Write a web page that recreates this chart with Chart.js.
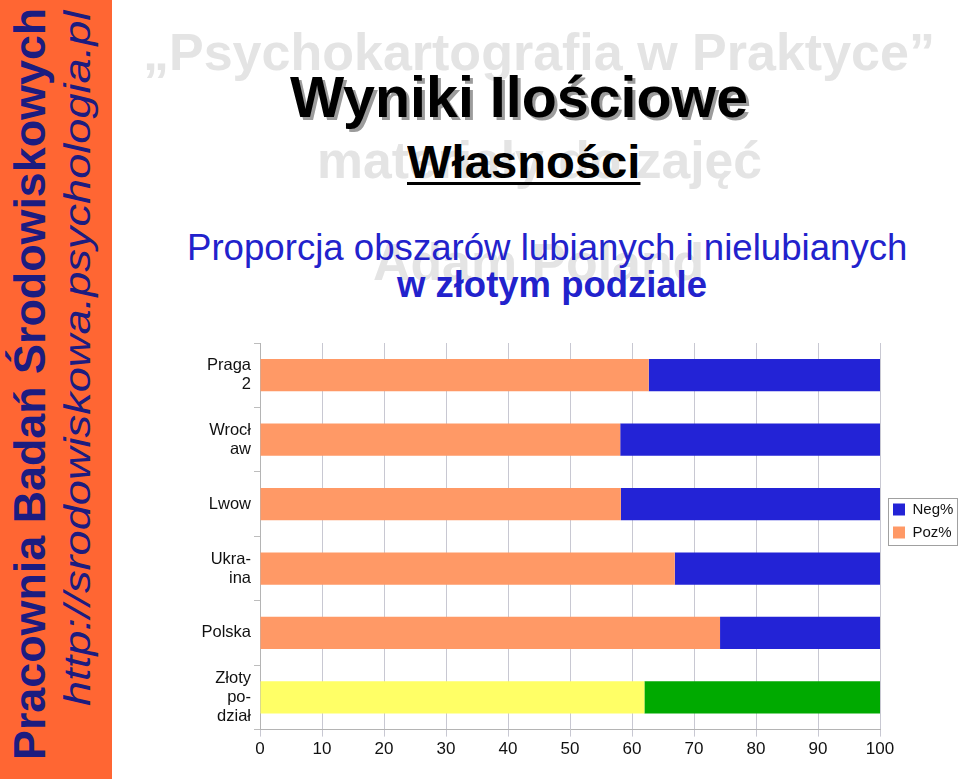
<!DOCTYPE html>
<html lang="pl">
<head>
<meta charset="utf-8">
<script src="https://cdn.jsdelivr.net/npm/chart.js@4.4.1/dist/chart.umd.min.js"></script>
<style>
html, body { margin: 0; padding: 0; background: #fff; }
body { width: 960px; height: 779px; overflow: hidden; position: relative; font-family: "Liberation Sans", Arial, sans-serif; }
#side { position: absolute; left: 0; top: 0; width: 112px; height: 779px; background: #FF6633; }
.t { position: absolute; white-space: nowrap; line-height: 1; transform-origin: 0 0; }
.wm { color: #E4E4E4; font-weight: bold; font-size: 52px; }
.side1 { color: #1C1C80; font-weight: bold; font-size: 45px; }
.side2 { color: #1C1C80; font-style: italic; font-size: 36px; }
#title { font-weight: bold; font-size: 57px; color: #000; text-shadow: 3px 3px 0 #9c9c9c; }
#sub { font-weight: bold; font-size: 47px; color: #000; text-decoration: underline; text-decoration-thickness: 3px; text-underline-offset: 4px; }
.blue { color: #2222CC; font-size: 36px; }
#chartBox { position: absolute; left: 190px; top: 343px; width: 770px; height: 436px; }
</style>
</head>
<body>
<div id="side"></div>
<div class="t side1" data-w="752" data-rot="1" style="left:7px;top:760px;">Pracownia Badań Środowiskowych</div>
<div class="t side2" data-w="695" data-rot="1" style="left:60px;top:706px;">http://srodowiskowa.psychologia.pl</div>

<div class="t wm" data-w="792" style="left:143px;top:26px;">„Psychokartografia w Praktyce”</div>
<div class="t wm" data-w="445" style="left:317px;top:134px;">materiały do zajęć</div>
<div class="t wm" data-w="331" style="left:373px;top:236px;">Adam Poland</div>

<div class="t" id="title" data-w="458" style="left:290px;top:69px;">Wyniki Ilościowe</div>
<div class="t" id="sub" data-w="233" style="left:407px;top:138px;">Własności</div>
<div class="t blue" data-w="720" style="left:187px;top:230px;">Proporcja obszarów lubianych i nielubianych</div>
<div class="t blue" data-w="310" style="left:397px;top:267px;font-weight:bold;">w złotym podziale</div>

<div id="chartBox"><canvas id="c"></canvas></div>

<script>
const categories = [['Praga', '2'], ['Wrocł', 'aw'], ['Lwow'], ['Ukra-', 'ina'], ['Polska'], ['Złoty', 'po-', 'dział']];
const pozValues = [62.7, 58.1, 58.2, 66.9, 74.2, 62.0];
const negValues = [37.3, 41.9, 41.8, 33.1, 25.8, 38.0];
const xTickValues = [0, 10, 20, 30, 40, 50, 60, 70, 80, 90, 100];

const goldenIndex = categories.length - 1;
const FONT = '"Liberation Sans", Arial, sans-serif';

// squeeze / stretch the slide texts to the measured widths
document.querySelectorAll('.t').forEach((el) => {
    const w = el.offsetWidth;
    const s = (+el.dataset.w) / w;
    el.style.transform = (el.dataset.rot ? 'rotate(-90deg) ' : '') + 'scaleX(' + s + ')';
});

const legendTweak = {
    id: 'legendTweak',
    beforeLayout(chart) {
        const lg = chart.legend;
        if (lg && !lg._fixed) {
            const fit = lg.fit.bind(lg);
            lg.fit = function () { fit(); this.width = 80; };
            lg._fixed = true;
        }
    },
    afterLayout(chart) {
        // centre the legend on y = 521 like the slide
        const lg = chart.legend;
        const shift = 178 - (lg.top + lg.bottom) / 2;
        lg.left += 5; lg.right += 5;
        lg.top += shift; lg.bottom += shift;
    },
    afterDraw(chart) {
        const lg = chart.legend;
        const ctx = chart.ctx;
        const cy = (lg.top + lg.bottom) / 2;
        ctx.save();
        ctx.strokeStyle = '#a0a0a0';
        ctx.lineWidth = 1;
        ctx.strokeRect(698.5, Math.round(cy - 23.5) + 0.5, 69, 47);
        ctx.restore();
    }
};

Chart.defaults.font.family = FONT;

new Chart(document.getElementById('c'), {
    type: 'bar',
    data: {
        labels: categories,
        datasets: [
            {
                label: 'Poz%',
                data: pozValues,
                backgroundColor: (ctx) => ctx.dataIndex === goldenIndex ? '#FFFF66' : '#FF9966',
                barPercentage: 0.5,
                categoryPercentage: 1
            },
            {
                label: 'Neg%',
                data: negValues,
                backgroundColor: (ctx) => ctx.dataIndex === goldenIndex ? '#00AA00' : '#2323D6',
                barPercentage: 0.5,
                categoryPercentage: 1
            }
        ]
    },
    options: {
        indexAxis: 'y',
        responsive: true,
        maintainAspectRatio: false,
        animation: false,
        layout: { padding: { bottom: 16 } },
        scales: {
            x: {
                stacked: true,
                min: 0,
                max: 100,
                afterBuildTicks: (s) => { s.ticks = xTickValues.map((v) => ({ value: v })); },
                ticks: { color: '#111', font: { size: 17 }, padding: 3, autoSkip: false, maxRotation: 0 },
                grid: { color: '#c8c8d2', tickLength: 7 },
                border: { color: '#b4b4b4' }
            },
            y: {
                stacked: true,
                grid: { drawOnChartArea: false, tickLength: 6, color: '#bdbdbd', offset: true },
                border: { color: '#b4b4b4' },
                ticks: { color: '#111', font: { size: 16.5, lineHeight: 1.15 }, padding: 3, autoSkip: false },
                afterFit: (s) => { s.width = 70; s.paddingTop = 0; s.paddingBottom = 0; }
            }
        },
        plugins: {
            legend: {
                position: 'right',
                reverse: true,
                labels: { boxWidth: 12, boxHeight: 12, padding: 8, color: '#111', font: { size: 15 } }
            },
            tooltip: { enabled: false }
        }
    },
    plugins: [legendTweak]
});
</script>
</body>
</html>
